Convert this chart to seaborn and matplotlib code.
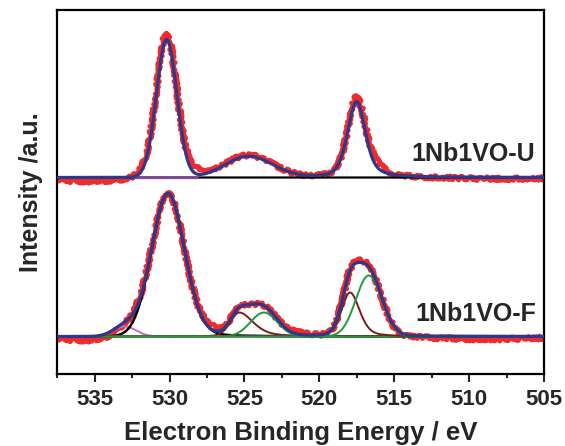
import numpy as np
import matplotlib
matplotlib.use("Agg")
import matplotlib.pyplot as plt
from matplotlib.ticker import MultipleLocator
import seaborn as sns

# ---------------------------------------------------------------------------
# XPS O 1s / V 2p region of the two catalysts (intensity in arbitrary units)
# Each band: centre (eV), height, half-width high-BE side, half-width low-BE
# side, Lorentzian fraction high-BE side, Lorentzian fraction low-BE side.
# ---------------------------------------------------------------------------
u_offset = 196.5
f_offset = 37.5

# 1Nb1VO-U : fitted envelope
u_fit_centre = [530.2, 524.75, 517.5]
u_fit_height = [138.0, 21.0, 76.0]
u_fit_hw_hi = [0.80, 1.80, 0.72]
u_fit_hw_lo = [0.80, 1.90, 0.68]
u_fit_eta_hi = [0.0, 0.0, 0.35]
u_fit_eta_lo = [0.0, 0.0, 0.55]

# 1Nb1VO-U : measured spectrum
u_obs_centre = [530.2, 531.8, 528.5, 524.75, 517.5, 516.3, 535.5, 508.0]
u_obs_height = [144.0, 5.0, 7.0, 22.0, 80.0, 6.0, -4.0, -1.5]
u_obs_hw_hi = [0.80, 0.60, 0.60, 1.85, 0.72, 0.70, 2.5, 4.0]
u_obs_hw_lo = [0.80, 0.60, 0.60, 1.90, 0.68, 0.70, 2.5, 4.0]
u_obs_eta_hi = [0.0, 0.0, 0.0, 0.0, 0.35, 0.0, 0.0, 0.0]
u_obs_eta_lo = [0.0, 0.0, 0.0, 0.0, 0.55, 0.0, 0.0, 0.0]

# 1Nb1VO-F : fitted components
f_fit_centre = [533.0, 530.1, 525.35, 523.7, 517.95, 516.7]
f_fit_height = [10.0, 143.0, 24.0, 24.0, 44.0, 61.0]
f_fit_hw_hi = [0.90, 1.30, 0.70, 1.05, 0.67, 1.02]
f_fit_hw_lo = [0.90, 1.30, 1.10, 1.05, 0.75, 1.02]
f_fit_eta_hi = [0.0, 0.0, 0.2, 0.0, 0.2, 0.0]
f_fit_eta_lo = [0.0, 0.1, 0.5, 0.0, 0.4, 0.0]
f_fit_colour = ["#c36fc3", "#000000", "#7e1b1b", "#1f9a3e", "#7e1b1b", "#1f9a3e"]

# 1Nb1VO-F : measured spectrum = fitted envelope + residual bands
f_res_centre = [535.5, 532.0, 527.2, 521.5, 517.3, 509.0]
f_res_height = [-4.0, 4.0, 4.0, 2.0, 2.0, -3.0]
f_res_hw = [2.5, 0.6, 0.8, 1.0, 0.8, 4.0]

x_ticks = [535, 530, 525, 520, 515, 510, 505]
labels = ["1Nb1VO-U", "1Nb1VO-F"]

RED = "#ee2b2e"
NAVY = "#2f3889"


def band(x, c, h, hw_hi, hw_lo, eta_hi=0.0, eta_lo=0.0):
    hw = np.where(x >= c, hw_hi, hw_lo)
    eta = np.where(x >= c, eta_hi, eta_lo)
    u = (x - c) / hw
    return h * ((1 - eta) * np.exp(-np.log(2) * u ** 2) + eta / (1 + u ** 2))


def total(x, centres, heights, hw_hi, hw_lo, eta_hi, eta_lo):
    s = np.zeros_like(x)
    for p in zip(centres, heights, hw_hi, hw_lo, eta_hi, eta_lo):
        s += band(x, *p)
    return s


be = np.linspace(537.5, 505.0, 1400)

sns.set_style("ticks")
plt.rcParams["font.family"] = ["Liberation Sans", "DejaVu Sans"]
plt.rcParams["font.weight"] = "bold"

fig = plt.figure(figsize=(5.65, 4.46), dpi=100)
ax = fig.add_axes([0.1014, 0.1614, 0.8614, 0.8162])


def draw(y, color, lw, rough=False, z=2):
    sns.lineplot(x=be, y=y, ax=ax, color=color, linewidth=lw, zorder=z,
                 estimator=None, sort=False)
    line = ax.lines[-1]
    if rough:
        line.set_sketch_params(scale=1.8, length=3, randomness=14)
    return line


# --- upper spectrum ---
u_obs = u_offset + total(be, u_obs_centre, u_obs_height, u_obs_hw_hi,
                         u_obs_hw_lo, u_obs_eta_hi, u_obs_eta_lo)
u_fit = u_offset + total(be, u_fit_centre, u_fit_height, u_fit_hw_hi,
                         u_fit_hw_lo, u_fit_eta_hi, u_fit_eta_lo)
draw(u_obs, RED, 3.6, rough=True, z=2)
draw(np.full_like(be, u_offset), "#000000", 1.6, z=3)
mask = (be <= 532.4) & (be >= 528.1)
ax.plot(be[mask], np.full(mask.sum(), u_offset), color="#8b3fa2", lw=1.6, zorder=3)
draw(u_fit, NAVY, 2.3, z=5)

# --- lower spectrum ---
f_fit = f_offset + total(be, f_fit_centre, f_fit_height, f_fit_hw_hi,
                         f_fit_hw_lo, f_fit_eta_hi, f_fit_eta_lo)
f_obs = f_fit.copy()
for c, h, w in zip(f_res_centre, f_res_height, f_res_hw):
    f_obs += band(be, c, h, w, w)
draw(f_obs, RED, 3.6, rough=True, z=2)
for c, h, whi, wlo, ehi, elo, col in zip(f_fit_centre, f_fit_height, f_fit_hw_hi,
                                          f_fit_hw_lo, f_fit_eta_hi, f_fit_eta_lo,
                                          f_fit_colour):
    lw = 1.8 if col == "#000000" else 1.4
    draw(f_offset + band(be, c, h, whi, wlo, ehi, elo), col, lw, z=3)
draw(f_fit, NAVY, 2.3, z=5)

# --- labels ---
ax.text(505.6, 220, labels[0], ha="right", va="center", fontsize=18,
        fontweight="bold", zorder=6)
ax.text(505.5, 60, labels[1], ha="right", va="center", fontsize=18,
        fontweight="bold", zorder=6)

ax.set_xlim(537.5, 505.0)
ax.set_ylim(0, 364)
ax.set_xticks(x_ticks)
ax.set_xticklabels([str(t) for t in x_ticks])
ax.xaxis.set_minor_locator(MultipleLocator(2.5))
ax.set_yticks([])
ax.tick_params(axis="x", which="major", direction="out", length=5.5, width=1.5,
               labelsize=16, pad=5)
ax.tick_params(axis="x", which="minor", direction="out", length=3, width=1.5)
for lab in ax.get_xticklabels():
    lab.set_fontweight("bold")
for sp in ax.spines.values():
    sp.set_visible(True)
    sp.set_linewidth(1.6)
    sp.set_color("#000000")

ax.set_xlabel("Electron Binding Energy / eV", fontsize=18.5, fontweight="bold",
              labelpad=8)
ax.set_ylabel("Intensity /a.u.", fontsize=18, fontweight="bold", labelpad=10)

fig.savefig("out.png", dpi=100)
